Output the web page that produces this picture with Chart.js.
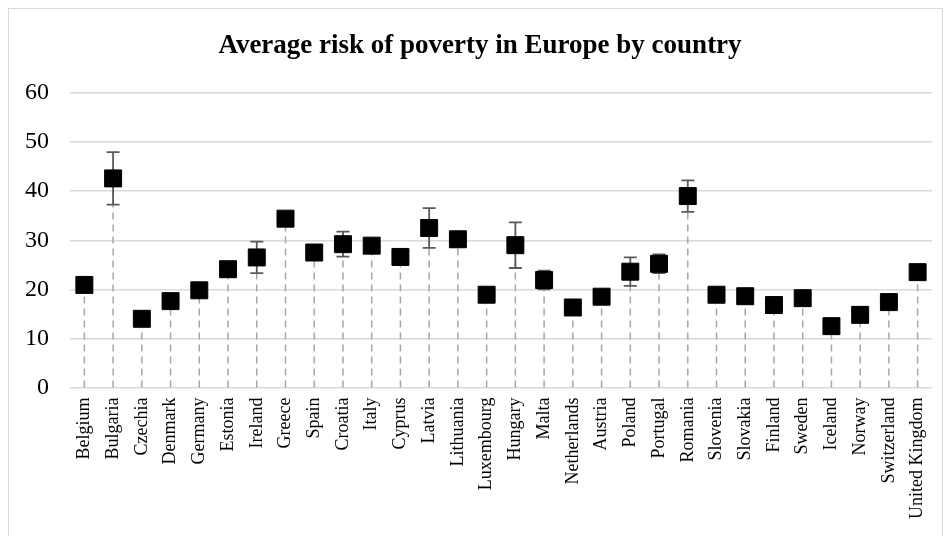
<!DOCTYPE html>
<html>
<head>
<meta charset="utf-8">
<title>Average risk of poverty in Europe by country</title>
<script src="https://cdn.jsdelivr.net/npm/chart.js@4.4.0/dist/chart.umd.min.js"></script>
<style>
  html, body { margin: 0; padding: 0; background: #fff; overflow: hidden; }
  #wrap { position: relative; width: 951px; height: 536px; }
  #frame {
    position: absolute; left: 8px; top: 8px; width: 933px; height: 600px;
    border: 1.5px solid #d9d9d9; pointer-events: none;
  }
</style>
</head>
<body>
<div id="wrap">
  <canvas id="povertyChart" width="951" height="536"></canvas>
  <div id="frame"></div>
</div>
<script>
const countries = [
  "Belgium", "Bulgaria", "Czechia", "Denmark", "Germany", "Estonia", "Ireland",
  "Greece", "Spain", "Croatia", "Italy", "Cyprus", "Latvia", "Lithuania",
  "Luxembourg", "Hungary", "Malta", "Netherlands", "Austria", "Poland",
  "Portugal", "Romania", "Slovenia", "Slovakia", "Finland", "Sweden",
  "Iceland", "Norway", "Switzerland", "United Kingdom"
];

// average risk of poverty (%)
const riskValues = [
  20.9, 42.6, 14.0, 17.6, 19.8, 24.1, 26.5, 34.4, 27.5, 29.2,
  28.9, 26.6, 32.5, 30.2, 18.9, 29.0, 21.9, 16.3, 18.5, 23.6,
  25.2, 39.0, 18.9, 18.6, 16.8, 18.2, 12.5, 14.8, 17.4, 23.5
];

// +/- error margin, 0 = no bar
const errorMargins = [
  0, 5.35, 0, 0, 0, 0, 3.2, 0, 0, 2.55,
  0, 0, 4.05, 1.5, 0, 4.65, 1.9, 0, 0, 2.9,
  1.9, 3.2, 0, 0, 0, 0, 0, 0, 0, 0
];

const yTicks = [0, 10, 20, 30, 40, 50, 60];

const serif = "'Liberation Serif', 'Times New Roman', serif";

// dashed drop lines + error bars, drawn under the markers
const dropAndErrors = {
  id: "dropAndErrors",
  beforeDatasetsDraw(chart) {
    const ctx = chart.ctx;
    const x = chart.scales.x;
    const y = chart.scales.y;
    const base = y.getPixelForValue(0);
    ctx.save();
    riskValues.forEach((v, i) => {
      const px = x.getPixelForValue(i);
      ctx.strokeStyle = "#a6a6a6";
      ctx.lineWidth = 1.5;
      ctx.setLineDash([7, 5]);
      ctx.beginPath();
      ctx.moveTo(px, base);
      ctx.lineTo(px, y.getPixelForValue(v));
      ctx.stroke();

      const e = errorMargins[i];
      if (e > 0) {
        const top = y.getPixelForValue(v + e);
        const bot = y.getPixelForValue(v - e);
        ctx.setLineDash([]);
        ctx.strokeStyle = "#595959";
        ctx.lineWidth = 1.8;
        ctx.beginPath();
        ctx.moveTo(px, top);
        ctx.lineTo(px, bot);
        ctx.moveTo(px - 6.5, top);
        ctx.lineTo(px + 6.5, top);
        ctx.moveTo(px - 6.5, bot);
        ctx.lineTo(px + 6.5, bot);
        ctx.stroke();
      }
    });
    ctx.restore();
  }
};

function displayChart() {
  const data = {
    labels: countries,
    datasets: [
      {
        label: "Average risk of poverty",
        data: riskValues,
        showLine: false,
        pointStyle: "rect",
        pointRadius: 12,
        pointBorderWidth: 1,
        backgroundColor: "#000",
        borderColor: "#000",
      },
    ],
  };

  const config = {
    type: "line",
    data: data,
    plugins: [dropAndErrors],
    options: {
      responsive: false,
      animation: false,
      events: [],
      // title box is centred between these paddings
      layout: { padding: { left: 9, right: 0, top: 0, bottom: 0 } },
      plugins: {
        legend: { display: false },
        tooltip: { enabled: false },
        title: {
          display: true,
          text: "Average risk of poverty in Europe by country",
          color: "#000",
          font: { family: serif, size: 27, weight: "bold", lineHeight: 1.2 },
          padding: { top: 30, bottom: 30.6 },
        },
      },
      scales: {
        x: {
          offset: true,
          grid: { display: false, drawTicks: false },
          border: { display: false },
          ticks: {
            autoSkip: false,
            minRotation: 90,
            maxRotation: 90,
            padding: 10,
            color: "#000",
            font: { family: serif, size: 18 },
          },
          afterFit: (s) => { s.height = 148.5; },
        },
        y: {
          min: 0,
          max: 60,
          afterBuildTicks: (s) => { s.ticks = yTicks.map((v) => ({ value: v })); },
          grid: { color: "#d9d9d9", lineWidth: 1.5, drawTicks: false },
          border: { display: false },
          ticks: {
            padding: 21,
            color: "#000",
            font: { family: serif, size: 24 },
          },
          afterFit: (s) => { s.width = 61; },
        },
        // empty spacer on the right
        yRight: {
          position: "right",
          min: 0,
          max: 60,
          grid: { display: false, drawTicks: false },
          border: { display: false },
          ticks: { display: false },
          afterFit: (s) => { s.width = 19; },
        },
      },
    },
  };
  new Chart(document.getElementById("povertyChart"), config);
}
displayChart();
</script>
</body>
</html>
